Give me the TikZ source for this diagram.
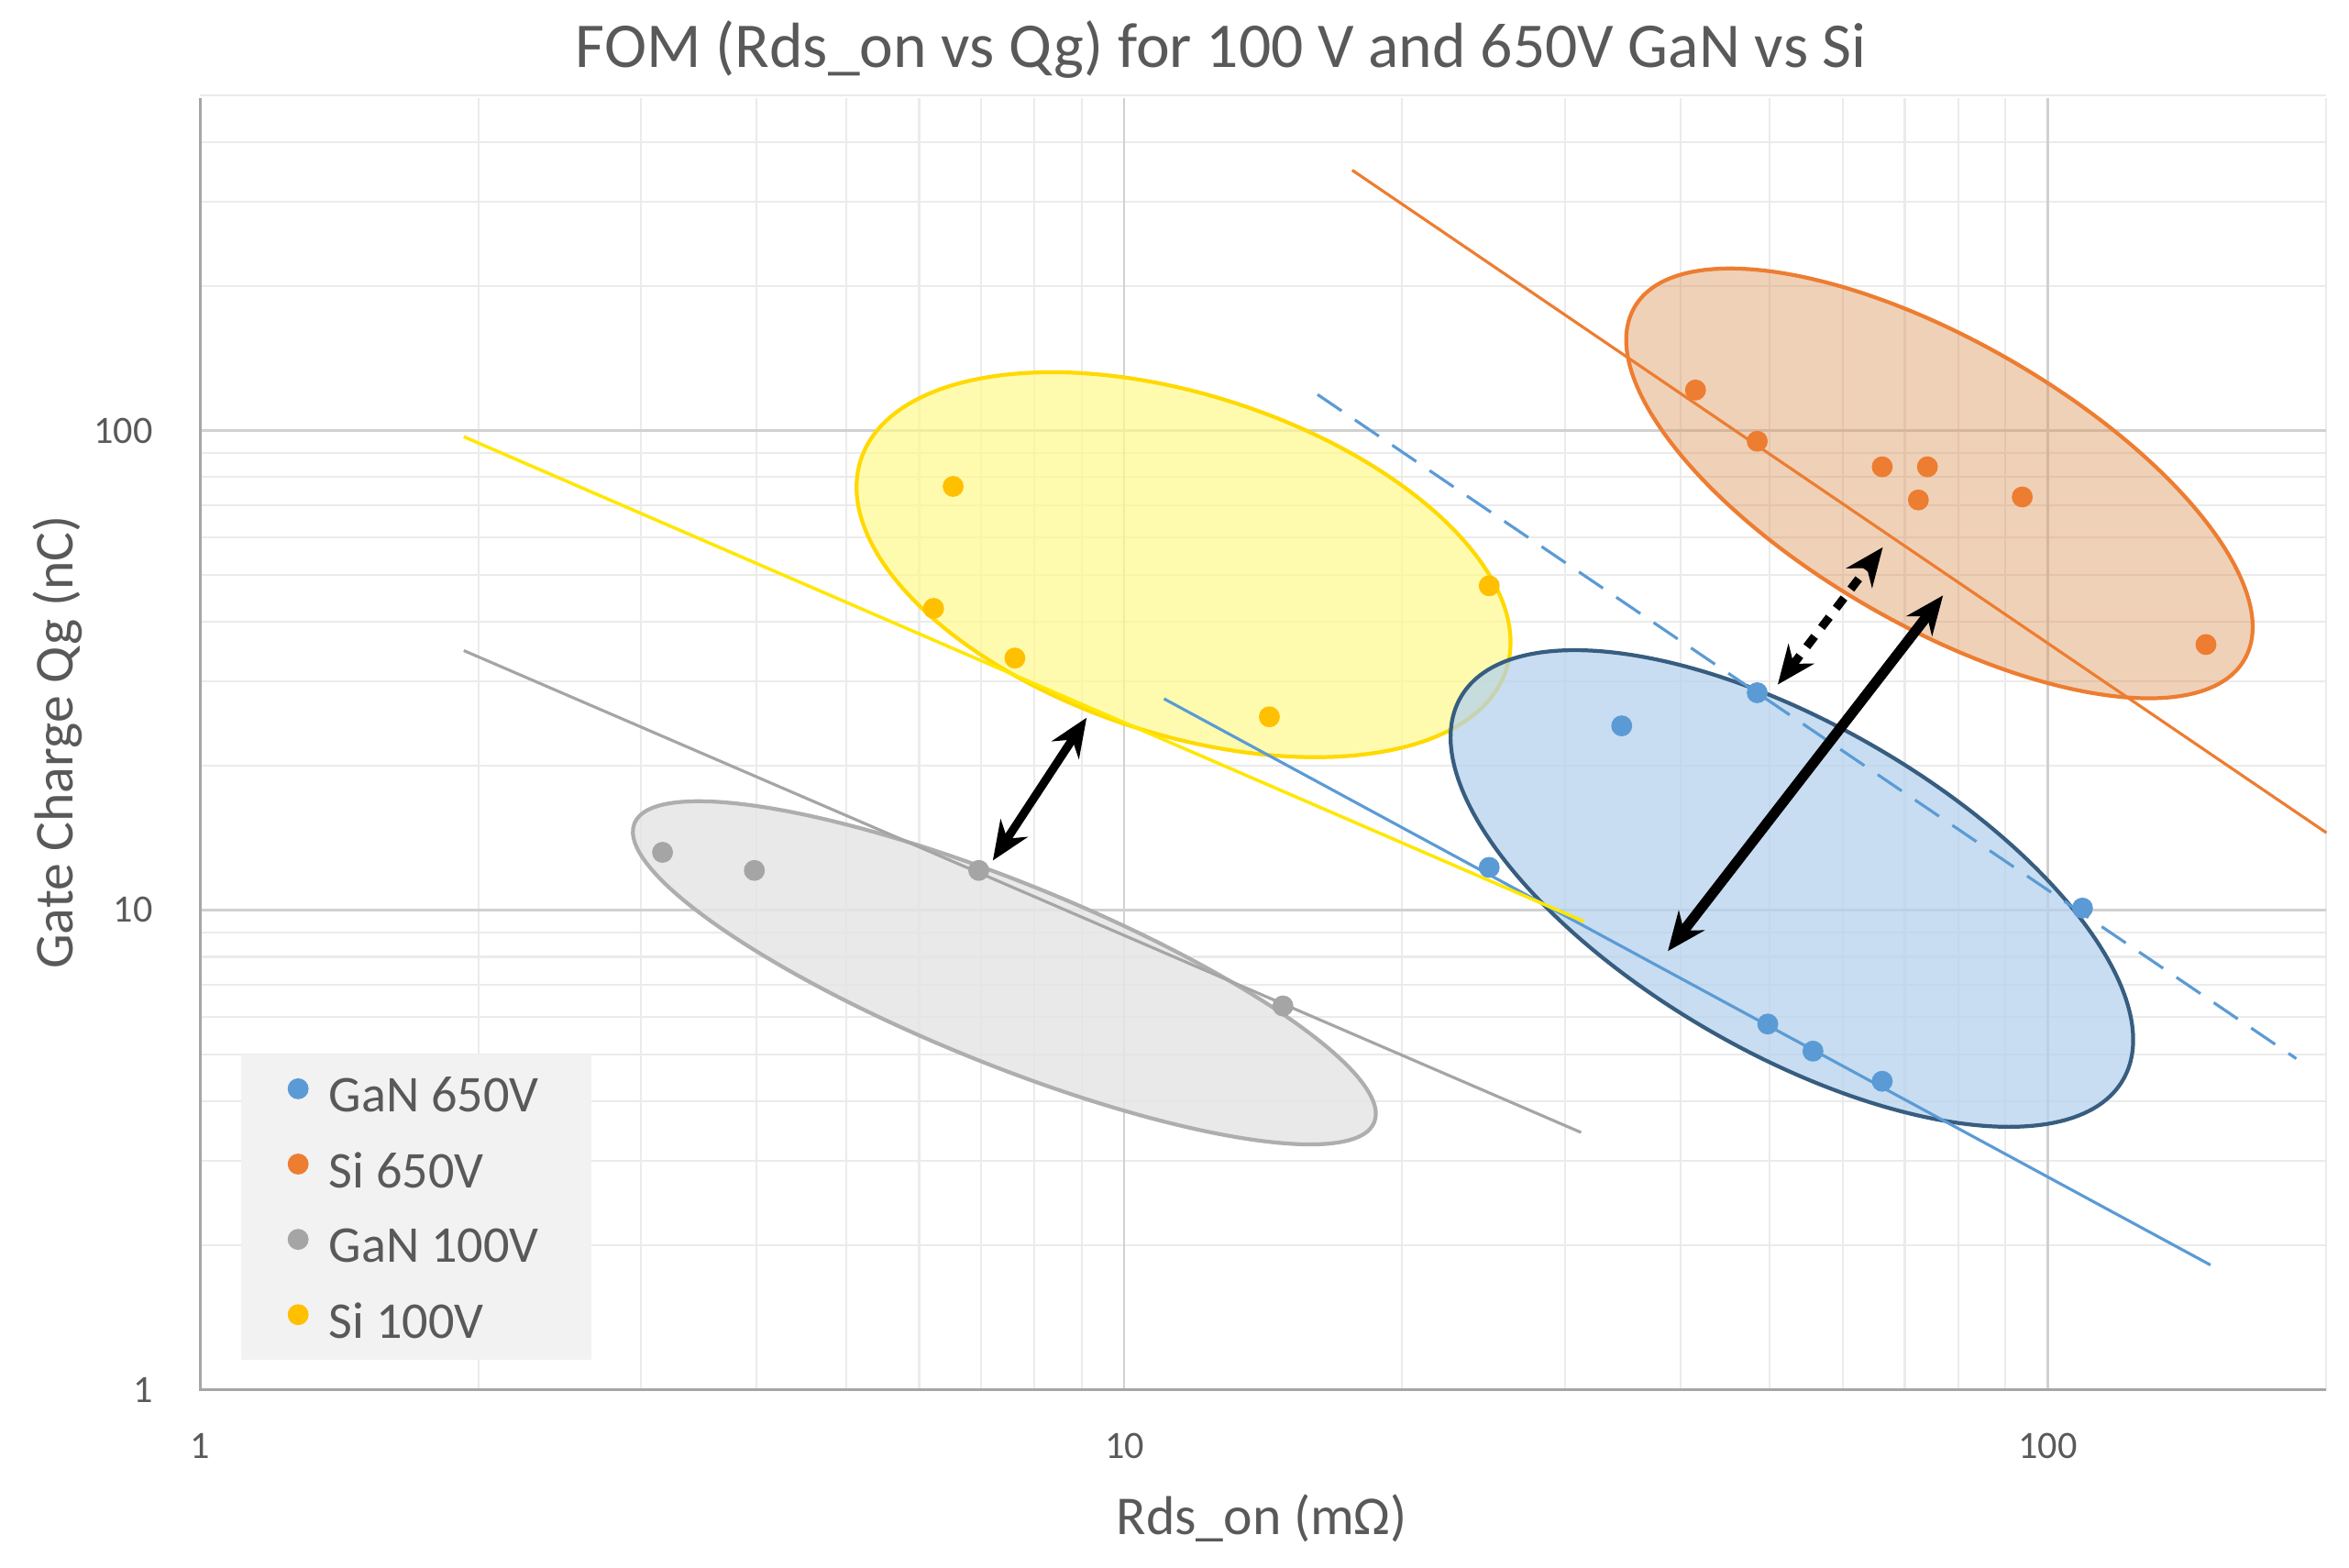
\documentclass[tikz,border=0pt]{standalone}
\usepackage{fontspec}
\setmainfont{Carlito}
\usetikzlibrary{arrows.meta}
\definecolor{gblue}{HTML}{5B9BD5}
\definecolor{gorange}{HTML}{ED7D31}
\definecolor{ggray}{HTML}{A5A5A5}
\definecolor{gyellow}{HTML}{FFC000}
\definecolor{txt}{HTML}{595959}
\tikzset{
 minor/.style={draw=black!8,line width=0.6pt},
 major/.style={draw=black!18,line width=0.8pt},
 pt/.style={circle,inner sep=0pt,minimum size=6.5pt,fill=#1},
 arr/.style={{Stealth[length=12pt,width=10pt]}-{Stealth[length=12pt,width=10pt]},line width=2.6pt,shorten <=2pt,shorten >=2pt},
 lbl/.style={text=txt,font=\fontsize{12}{14}\selectfont},
}
\begin{document}
\begin{tikzpicture}[x=0.016423cm,y=-0.016423cm]
\useasboundingbox (0,0) rectangle (1560,1041);
% grid
\foreach \v in {2,3,4,5,6,7,8,9,20,30,40,50,60,70,80,90,200}
  \draw[minor] ({133+613.5*log10(\v)},65) -- ({133+613.5*log10(\v)},923);
\foreach \v in {2,3,4,5,6,7,8,9,20,30,40,50,60,70,80,90,200,300,400,500}
  \draw[minor] (133,{923-318.5*log10(\v)}) -- (1545,{923-318.5*log10(\v)});
\foreach \v in {10,100}{
  \draw[major] ({133+613.5*log10(\v)},65) -- ({133+613.5*log10(\v)},923);
  \draw[major] (133,{923-318.5*log10(\v)}) -- (1545,{923-318.5*log10(\v)});}
\draw[draw=black!35,line width=0.8pt] (133,65) -- (133,923) -- (1545,923);
% ellipses
\draw[gyellow!60!yellow,fill=yellow!45,fill opacity=0.7,line width=1.2pt,rotate around={-18:(786,375)}] (786,375) ellipse [x radius=3.70cm,y radius=1.85cm];
\draw[ggray!90,fill=black!10,fill opacity=0.85,line width=1.2pt,rotate around={-22:(667,646)}] (667,646) ellipse [x radius=4.35cm,y radius=0.99cm];
\draw[gblue!60!black,fill=gblue!45,fill opacity=0.75,line width=1.2pt,rotate around={-30:(1190,590)}] (1190,590) ellipse [x radius=4.17cm,y radius=1.79cm];
\draw[gorange,fill=gorange!45!brown!80,fill opacity=0.45,line width=1.2pt,rotate around={-30:(1288,321)}] (1288,321) ellipse [x radius=3.84cm,y radius=1.55cm];
% trend lines
\coordinate (o1) at (898,113); \coordinate (o2) at (1545,553);
\coordinate (b1) at (875,262); \coordinate (b2) at (1525,703);
\coordinate (c1) at (773,464); \coordinate (c2) at (1468,840);
\coordinate (y1) at (308,290); \coordinate (y2) at (1052,612);
\coordinate (g1) at (308,432); \coordinate (g2) at (1050,752);
\draw[gorange,line width=0.9pt] (o1) -- (o2);
\draw[gblue,line width=0.9pt,dash pattern=on 9pt off 5pt] (b1) -- (b2);
\draw[gblue,line width=0.9pt] (c1) -- (c2);
\draw[yellow!90!orange,line width=1pt] (y1) -- (y2);
\draw[ggray,line width=0.9pt] (g1) -- (g2);
% points
\foreach \x/\y [count=\i] in {1077/482,1167/460,989/576,1174/680,1204/698,1250/718,1383/603}
  \node[pt=gblue] (B\i) at (\x,\y) {};
\foreach \x/\y [count=\i] in {1126/259,1167/293,1250/310,1280/310,1274/332,1343/330,1465/428}
  \node[pt=gorange] (O\i) at (\x,\y) {};
\foreach \x/\y [count=\i] in {440/566,501/578,650/578,852/668}
  \node[pt=ggray] (G\i) at (\x,\y) {};
\foreach \x/\y [count=\i] in {633/323,620/404,674/437,843/476,989/389}
  \node[pt=gyellow] (Y\i) at (\x,\y) {};
% arrows
\coordinate (a1) at (657,575); \coordinate (a2) at (724,473);
\coordinate (a3) at (1105,635); \coordinate (a4) at (1293,392);
\coordinate (a5) at (1178,458); \coordinate (a6) at (1253,360);
\draw[arr] (a1) -- (a2);
\draw[arr,line width=3.2pt] (a3) -- (a4);
\draw[arr,dash pattern=on 4pt off 3.5pt] (a5) -- (a6);
% legend
\node[fill=black!5,minimum width=233*0.016423cm,minimum height=203*0.016423cm,inner sep=0pt] (leg) at (276.5,801.5) {};
\foreach \c/\t/\y in {gblue/GaN 650V/727,gorange/Si 650V/777,ggray/GaN 100V/827,gyellow/Si 100V/877}{
  \node[pt=\c] at (198,{\y-4}) {};
  \node[anchor=west,text=txt,font=\fontsize{16}{18}\selectfont] at (211,\y) {\t};}
% tick labels
\node[lbl] (t1) at (133,960) {1};
\node[lbl] (t10) at (747,960) {10};
\node[lbl] (t100) at (1360,960) {100};
\node[lbl,anchor=east] (u1) at (109,923) {1};
\node[lbl,anchor=east] (u10) at (109,604) {10};
\node[lbl,anchor=east] (u100) at (109,286) {100};
% titles
\node[text=txt,font=\fontsize{19.8}{22}\selectfont] (title) at (811,33) {FOM (Rds\_on vs Qg) for 100 V and 650V GaN vs Si};
\node[text=txt,font=\fontsize{17}{19}\selectfont] (xt) at (838,1008) {Rds\_on (mΩ)};
\node[text=txt,font=\fontsize{17}{19}\selectfont,rotate=90] (yt) at (38,493) {Gate Charge Qg (nC)};
\end{tikzpicture}
\end{document}
